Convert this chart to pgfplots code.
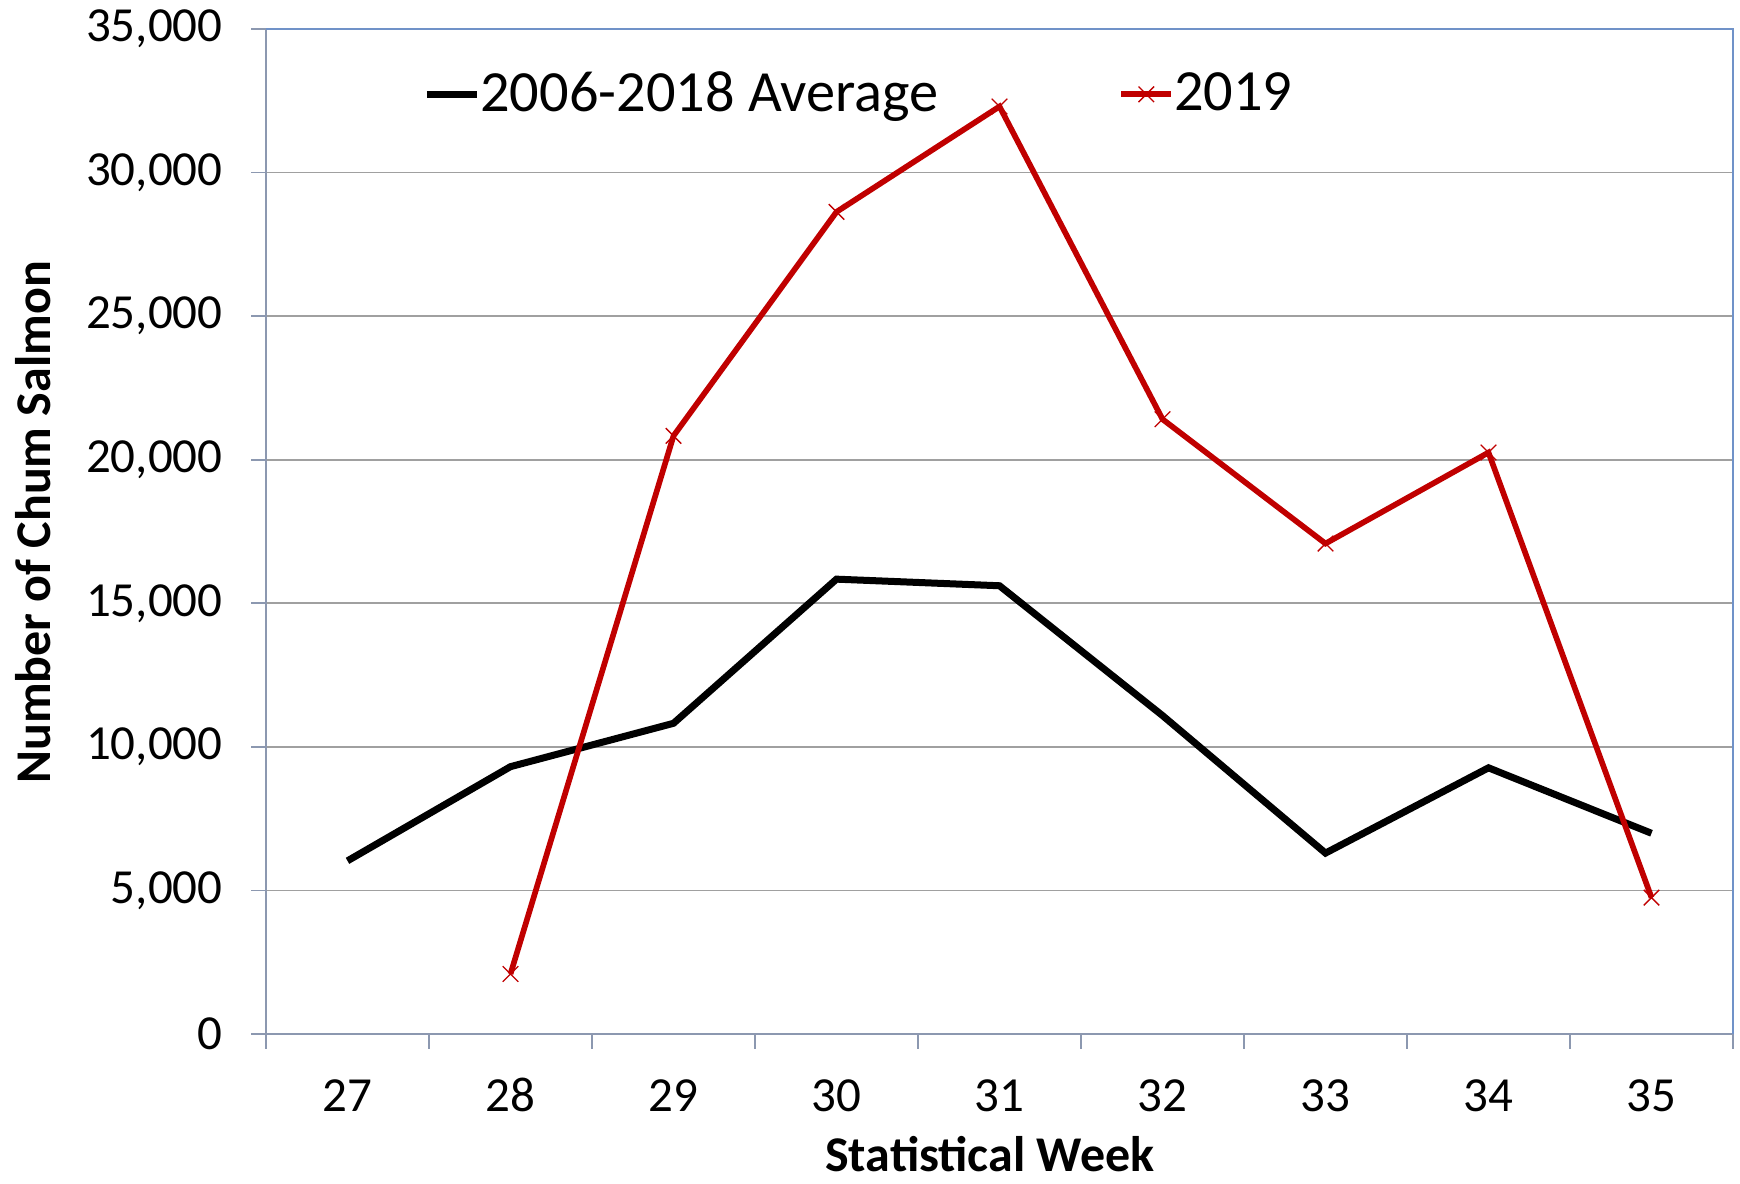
\documentclass[border=0pt]{standalone}
\usepackage{fontspec}
\setmainfont{Carlito}
\usepackage{pgfplots}
\pgfplotsset{compat=1.18}
\definecolor{myred}{RGB}{192,0,0}
\definecolor{axisgray}{RGB}{140,152,176}
\definecolor{borderblue}{RGB}{112,146,200}
\definecolor{gridgray}{RGB}{160,160,160}
\begin{document}
\begin{tikzpicture}
\path[use as bounding box] (0,0) rectangle (522pt,355.2pt);
\begin{axis}[
  at={(79.8pt,45pt)}, anchor=south west,
  scale only axis, width=440.1pt, height=301.5pt,
  xmin=26.5, xmax=35.5, ymin=0, ymax=35000,
  xtick={27,28,29,30,31,32,33,34,35},
  minor xtick={26.5,27.5,28.5,29.5,30.5,31.5,32.5,33.5,34.5,35.5},
  ytick={0,5000,10000,15000,20000,25000,30000,35000},
  xtick pos=bottom, ytick pos=left,
  tick align=outside, major tick length=4.5pt, minor tick length=4.5pt,
  major x tick style={draw=none},
  minor x tick style={draw=axisgray, line width=0.5pt},
  major y tick style={draw=axisgray, line width=0.5pt},
  axis line style={draw=axisgray, line width=0.7pt},
  ymajorgrids, major grid style={draw=gridgray, line width=0.5pt},
  ticklabel style={font=\fontsize{14.7}{16}\selectfont},
  /pgf/number format/assume math mode=true,
  /pgf/number format/1000 sep={,},
  scaled y ticks=false,
  yticklabel style={/pgf/number format/fixed},
  xticklabel style={yshift=-8.2pt, text height=1.5ex, text depth=0.25ex},
  yticklabel style={xshift=-5pt},
  xlabel={\textbf{Statistical Week}},
  ylabel={\textbf{Number of Chum Salmon}},
  xlabel style={font=\fontsize{15}{17}\selectfont, inner sep=0pt, at={(axis description cs:0.4935,-0.12)}, anchor=center},
  ylabel style={font=\fontsize{15}{17}\selectfont, at={(axis description cs:-0.159,0.509)}, anchor=center},
  legend columns=2,
  legend style={at={(rel axis cs:0.1,0.935)}, anchor=west, draw=none, fill=none,
    font=\fontsize{17.5}{20}\selectfont,
    /tikz/every even column/.append style={column sep=52pt},
    /tikz/every odd column/.append style={column sep=-2pt}},
  legend cell align=left,
  legend image code/.code={\draw[mark repeat=2,mark phase=2,#1] plot coordinates {(0pt,0pt) (7.5pt,0pt) (15pt,0pt)};},
  clip=false,
]
\addplot[black, line width=2.1pt, mark=none] coordinates {
(27,6030) (28,9310) (29,10820) (30,15840) (31,15610) (32,11090) (33,6300) (34,9270) (35,6990)
};
\addlegendentry{2006-2018 Average}
\addplot[myred, line width=1.7pt, mark=x, mark size=3.3pt, mark options={line width=0.4pt, solid}] coordinates {
(28,2090) (29,20830) (30,28630) (31,32300) (32,21410) (33,17080) (34,20250) (35,4750)
};
\addlegendentry{2019}
\draw[borderblue, line width=0.8pt] (rel axis cs:0,1) -- (rel axis cs:1,1) -- (rel axis cs:1,0);
\end{axis}
\end{tikzpicture}
\end{document}
